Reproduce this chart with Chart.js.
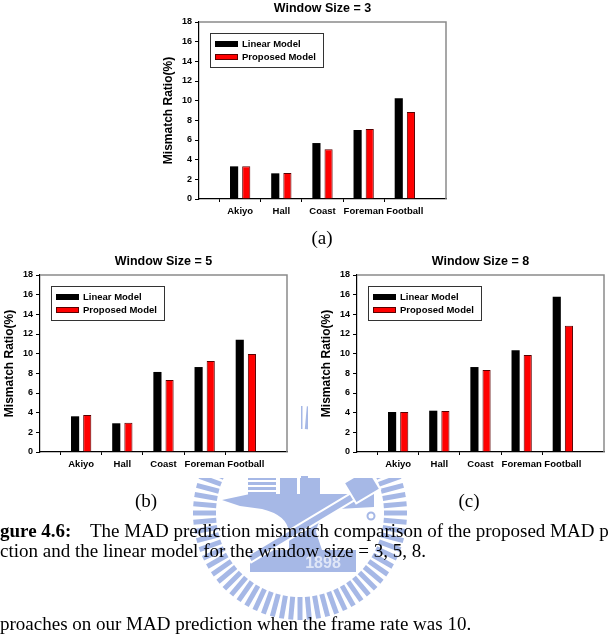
<!DOCTYPE html>
<html>
<head>
<meta charset="utf-8">
<script src="https://cdn.jsdelivr.net/npm/chart.js@4.4.1/dist/chart.umd.min.js"></script>
<style>
  html, body { margin: 0; padding: 0; background: #fff; }
  body { width: 615px; height: 634px; position: relative; overflow: hidden; }
  .panel { position: absolute; width: 310px; height: 225px; background: #fff; }
  .cap { position: absolute; font-family: "Liberation Serif", "Times New Roman", serif; font-size: 19px; line-height: 19px; color: #000; white-space: nowrap; }
  .sub { width: 100px; text-align: center; }
  #seal { position: absolute; left: 0; top: 0; }
</style>
</head>
<body>
<canvas id="seal" width="615" height="634"></canvas>

<div class="panel" style="left:150px;top:0px"><canvas id="chartA" width="310" height="225"></canvas></div>
<div class="panel" style="left:-9px;top:253px"><canvas id="chartB" width="310" height="225"></canvas></div>
<div class="panel" style="left:308px;top:253px"><canvas id="chartC" width="310" height="225"></canvas></div>

<div class="cap sub" style="left:272px;top:228px">(a)</div>
<div class="cap sub" style="left:96px;top:491px">(b)</div>
<div class="cap sub" style="left:419px;top:491px">(c)</div>
<div class="cap" style="left:0px;top:521px;font-weight:bold">gure 4.6:</div>
<div class="cap" style="left:90px;top:521px">The MAD prediction mismatch comparison of the proposed MAD p</div>
<div class="cap" style="left:0px;top:541px">ction and the linear model for the window size = 3, 5, 8.</div>
<div class="cap" style="left:0px;top:614px">proaches on our MAD prediction when the frame rate was 10.</div>

<script>
// chart data
const categories = ['Akiyo', 'Hall', 'Coast', 'Foreman', 'Football'];
const seriesNames = ['Linear Model', 'Proposed Model'];
const yMax = 18;
const yStep = 2;

const linearW3 = [3.32, 2.61, 5.69, 7.02, 10.24];
const proposedW3 = [3.32, 2.64, 5.05, 7.12, 8.85];

const linearW5 = [3.63, 2.92, 8.14, 8.64, 11.42];
const proposedW5 = [3.76, 2.98, 7.32, 9.25, 9.97];

const linearW8 = [4.07, 4.20, 8.64, 10.34, 15.80];
const proposedW8 = [4.07, 4.18, 8.34, 9.86, 12.85];

const FONT = '"Liberation Sans", Arial, sans-serif';

// grey frame on top and right of the plot
const framePlugin = {
    id: 'frame',
    afterDatasetsDraw(chart) {
        const { ctx, chartArea: a } = chart;
        ctx.save();
        ctx.strokeStyle = '#8a8a8a';
        ctx.lineWidth = 1.5;
        ctx.beginPath();
        ctx.moveTo(a.left, a.top);
        ctx.lineTo(a.right, a.top);
        ctx.lineTo(a.right, a.bottom);
        ctx.stroke();
        ctx.restore();
    }
};

// boxed legend inside the plot, top left
const boxLegendPlugin = {
    id: 'boxLegend',
    afterDatasetsDraw(chart) {
        const { ctx, chartArea: a } = chart;
        const x = a.left + 11, y = a.top + 11;
        ctx.save();
        ctx.fillStyle = '#fff';
        ctx.fillRect(x, y, 113, 34);
        ctx.strokeStyle = '#333';
        ctx.lineWidth = 1;
        ctx.strokeRect(x + 0.5, y + 0.5, 113, 34);
        chart.data.datasets.forEach((ds, i) => {
            const cy = y + 11 + i * 13;
            ctx.fillStyle = ds.backgroundColor;
            ctx.fillRect(x + 5, cy - 3, 23, 6);
            if (ds.borderWidth) {
                ctx.strokeStyle = ds.borderColor;
                ctx.lineWidth = 1;
                ctx.strokeRect(x + 5.5, cy - 2.5, 22, 5);
            }
            ctx.fillStyle = '#000';
            ctx.font = 'bold 9.5px ' + FONT;
            ctx.textBaseline = 'middle';
            ctx.fillText(ds.label, x + 32, cy + 0.5);
        });
        ctx.restore();
    }
};

function makeChart(id, title, linear, proposed) {
    const ctx = document.getElementById(id).getContext('2d');
    return new Chart(ctx, {
        type: 'bar',
        data: {
            datasets: [{
                label: seriesNames[0],
                data: linear.map((v, i) => ({ x: i + 1, y: v })),
                backgroundColor: '#000000',
                borderWidth: 0,
                barPercentage: 0.67,
                categoryPercentage: 0.59
            }, {
                label: seriesNames[1],
                data: proposed.map((v, i) => ({ x: i + 1, y: v })),
                backgroundColor: '#ff0000',
                borderColor: '#5a0000',
                borderWidth: 1,
                barPercentage: 0.67,
                categoryPercentage: 0.59
            }]
        },
        options: {
            responsive: false,
            animation: false,
            layout: { padding: { left: 0, right: 14, top: 0, bottom: 0 } },
            plugins: {
                legend: { display: false },
                tooltip: { enabled: false },
                title: {
                    display: true,
                    fullSize: false,   // center over the plot, not the canvas
                    text: title,
                    color: '#000',
                    font: { family: FONT, size: 12.5, weight: 'bold' },
                    padding: { top: 1.5, bottom: 5.5 }
                }
            },
            scales: {
                x: {
                    type: 'linear',
                    min: 0,
                    max: categories.length + 1,
                    offset: false,
                    grid: {
                        drawOnChartArea: false,
                        tickLength: 3,
                        tickColor: c => (c.tick && c.tick.value >= 1 && c.tick.value <= categories.length) ? '#000' : 'rgba(0,0,0,0)'
                    },
                    border: { color: '#000', width: 1.2 },
                    ticks: {
                        stepSize: 1,
                        autoSkip: false,
                        maxRotation: 0,
                        padding: 4,
                        color: '#000',
                        font: { family: FONT, size: 9.5, weight: 'bold' },
                        callback: v => categories[v - 1] || ''
                    },
                    afterFit: s => { s.height = 26; }
                },
                y: {
                    min: 0,
                    max: yMax,
                    grid: { drawOnChartArea: false, tickLength: 4, tickColor: '#000' },
                    border: { color: '#000', width: 1.2 },
                    ticks: {
                        stepSize: yStep,
                        padding: 3,
                        color: '#000',
                        font: { family: FONT, size: 9, weight: 'bold' }
                    },
                    title: {
                        display: true,
                        text: 'Mismatch Ratio(%)',
                        color: '#000',
                        font: { family: FONT, size: 12, weight: 'bold' },
                        padding: { top: 11, bottom: 0 }
                    },
                    afterFit: s => { s.width = 49; }
                }
            }
        },
        plugins: [framePlugin, boxLegendPlugin]
    });
}

makeChart('chartA', 'Window Size = 3', linearW3, proposedW3);
makeChart('chartB', 'Window Size = 5', linearW5, proposedW5);
makeChart('chartC', 'Window Size = 8', linearW8, proposedW8);

// faint university seal behind the page (decoration, not data)
(function drawSeal() {
    const g = document.getElementById('seal').getContext('2d');
    const SEAL = '#a6b8e6';
    const cx = 300, cy = 513;
    g.fillStyle = SEAL;
    g.strokeStyle = SEAL;
    // ring of radial bars
    g.lineWidth = 5;
    for (let k = 0; k < 72; k++) {
        const ang = k * 5 * Math.PI / 180;
        const s = Math.sin(ang), c = Math.cos(ang);
        g.beginPath();
        g.moveTo(cx + 84 * s, cy - 84 * c);
        g.lineTo(cx + 107 * s, cy - 107 * c);
        g.stroke();
    }
    // book pages and blocks
    for (let k = 0; k < 4; k++) g.fillRect(248, 477 + k * 5, 28, 3);
    g.fillRect(280, 476, 17, 19);
    g.fillRect(300, 476, 20, 19);
    // anvil
    g.beginPath();
    g.moveTo(222, 500); g.lineTo(250, 494); g.lineTo(374, 494); g.lineTo(374, 507);
    g.lineTo(338, 509); g.quadraticCurveTo(318, 515, 316, 532); g.lineTo(322, 550);
    g.lineTo(289, 550); g.lineTo(289, 532); g.quadraticCurveTo(287, 515, 262, 509);
    g.lineTo(240, 506); g.closePath(); g.fill();
    g.fillRect(250, 550, 106, 22);
    g.fillStyle = '#dfe6f7';
    g.font = 'bold 16px ' + FONT;
    g.textAlign = 'center';
    g.fillText('1898', 323, 568);
    // hammer
    g.save();
    g.translate(304, 526);
    g.rotate(-31 * Math.PI / 180);
    g.fillStyle = SEAL; g.strokeStyle = '#fff'; g.lineWidth = 2;
    g.fillRect(-64, -4, 128, 8); g.strokeRect(-64, -4, 128, 8);
    g.restore();
    g.save();
    g.translate(362, 486);
    g.rotate(-31 * Math.PI / 180);
    g.fillStyle = SEAL; g.strokeStyle = '#fff'; g.lineWidth = 2;
    g.fillRect(-14, -12, 28, 24); g.strokeRect(-14, -12, 28, 24);
    g.restore();
    g.strokeStyle = SEAL; g.lineWidth = 2;
    g.beginPath(); g.arc(371, 516, 3.5, 0, Math.PI * 2); g.stroke();
})();
</script>
</body>
</html>
